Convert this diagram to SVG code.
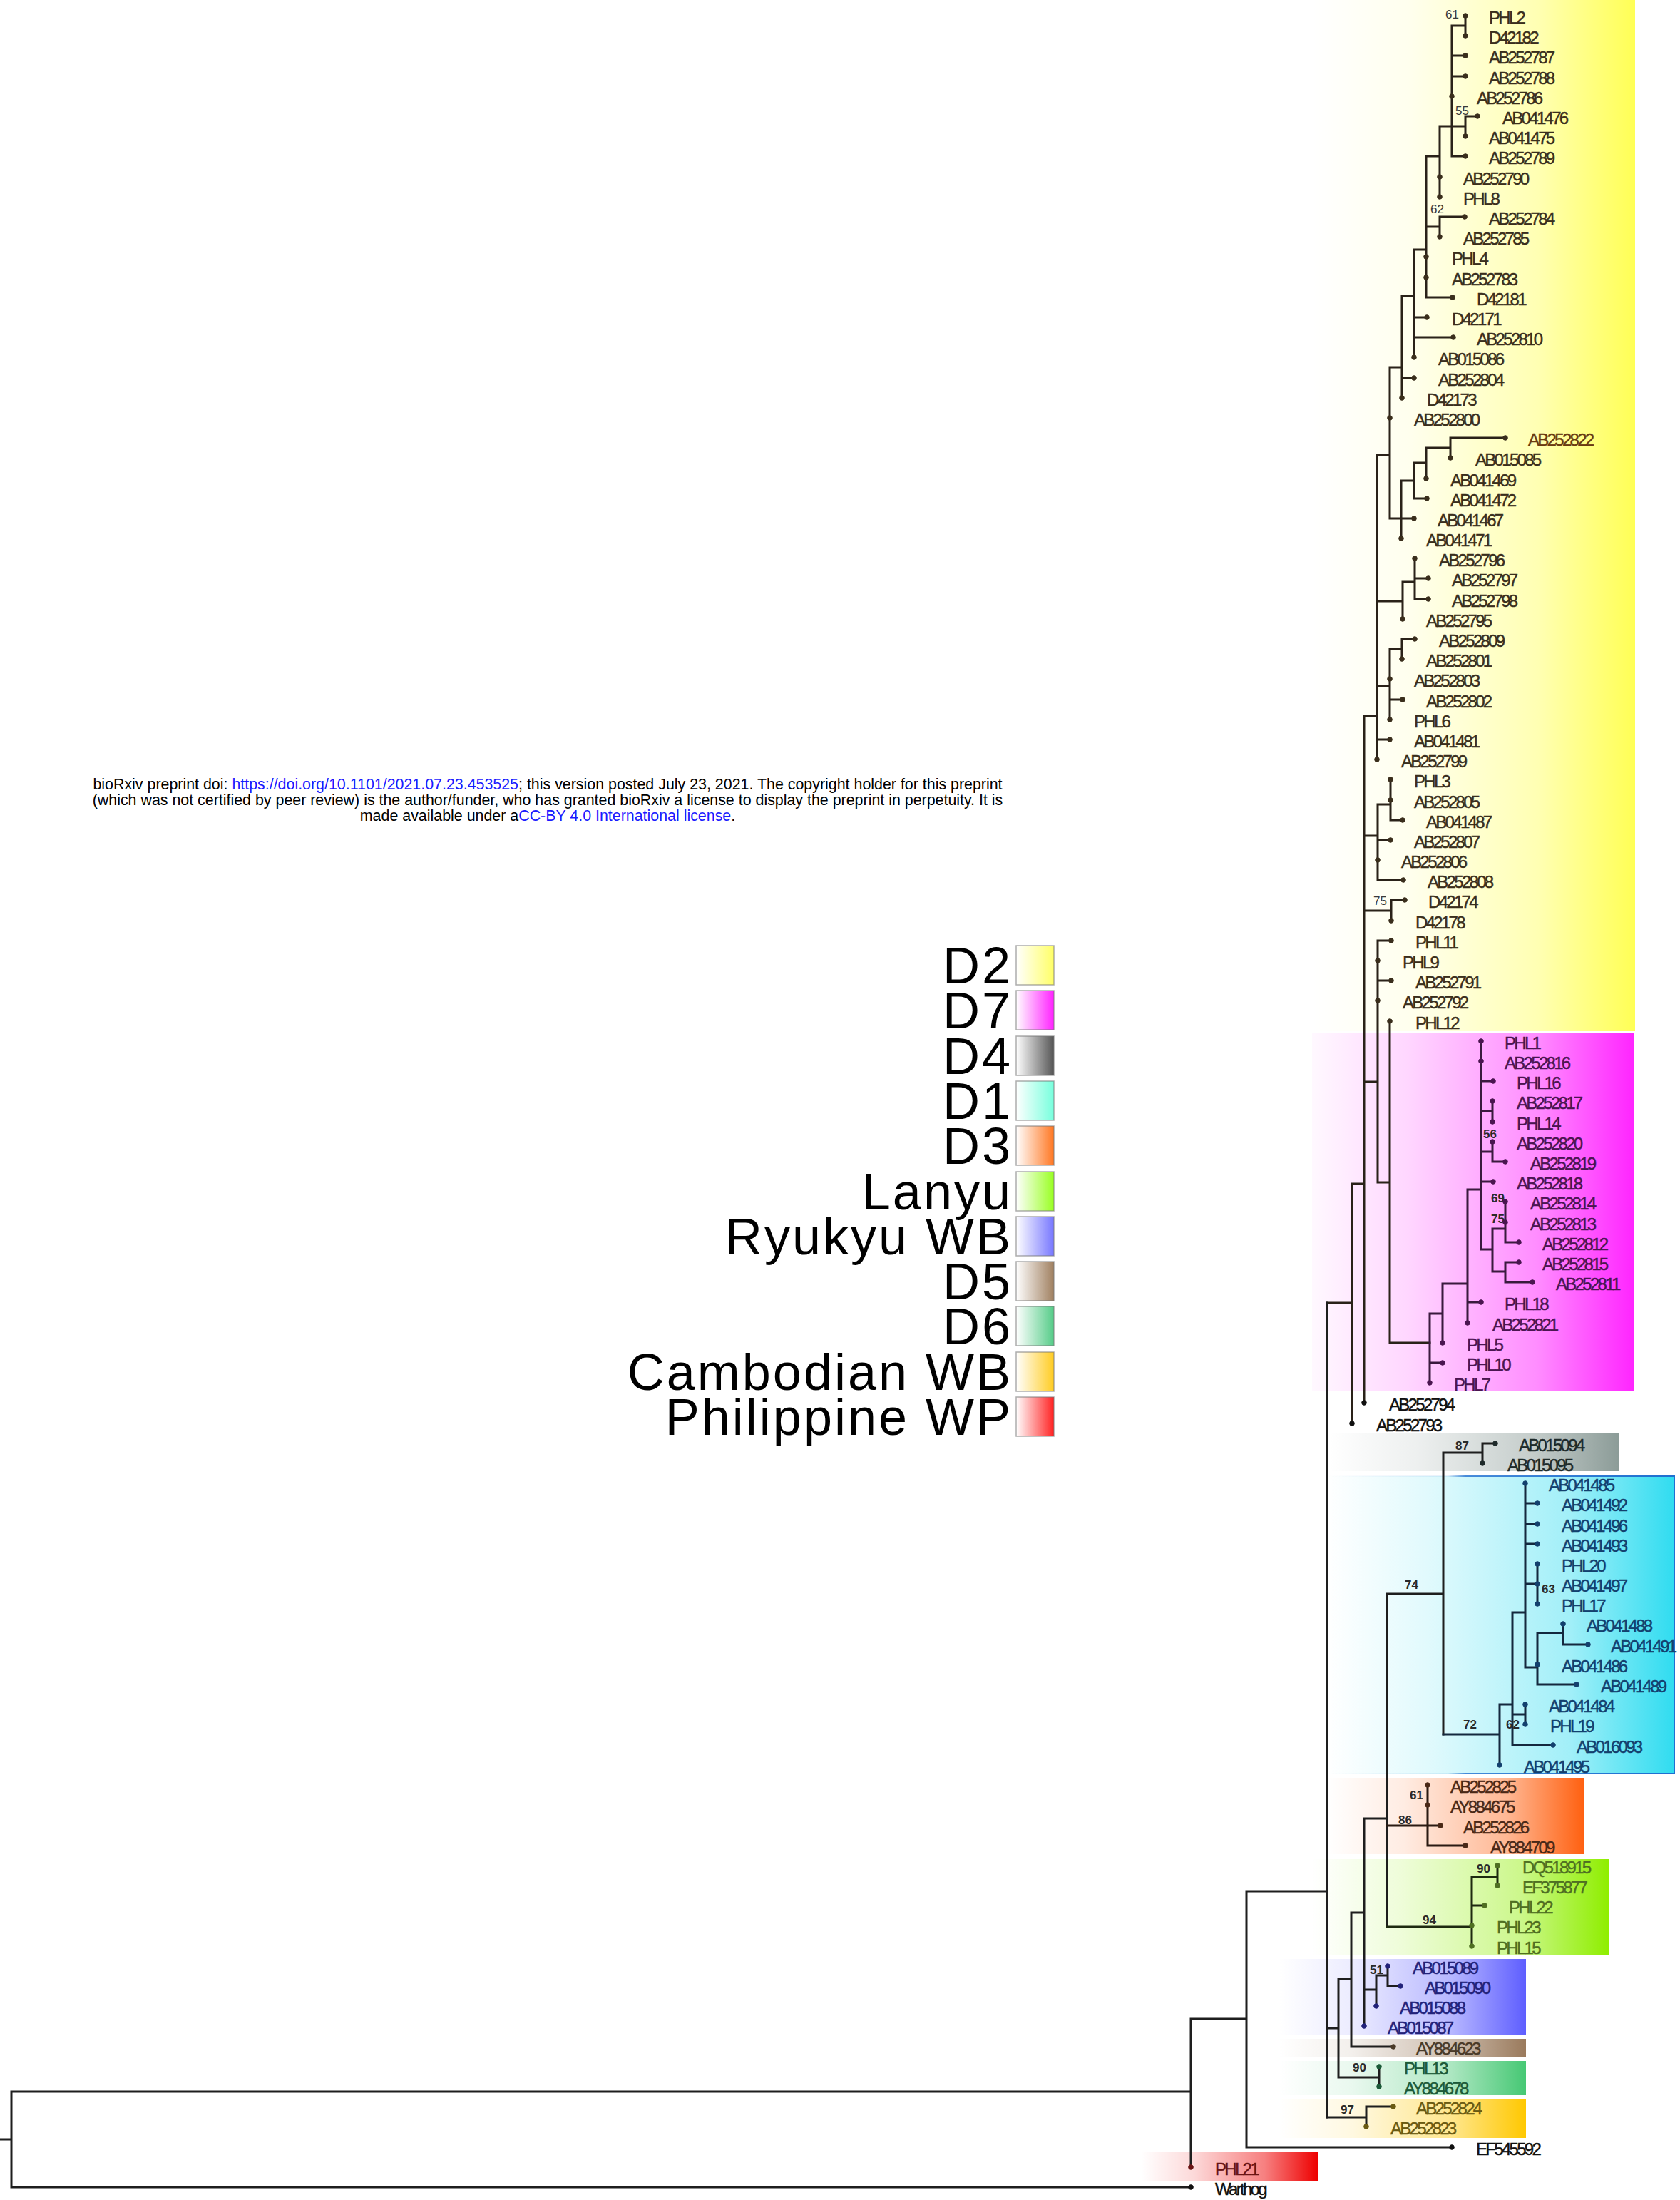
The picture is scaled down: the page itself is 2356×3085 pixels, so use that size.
<svg xmlns="http://www.w3.org/2000/svg" width="2356" height="3085" viewBox="0 0 2356 3085">
<style>
.lb{font-family:"Liberation Sans",Arial,sans-serif;font-size:24px;letter-spacing:-2.7px;dominant-baseline:central;stroke-width:.45}
.bs{font-family:"Liberation Sans",Arial,sans-serif;font-size:17px;font-weight:bold;fill:#2a2a2a;dominant-baseline:central}
.bsr{font-family:"Liberation Sans",Arial,sans-serif;font-size:17px;fill:#3a3a3a;dominant-baseline:central}
.lg{font-family:"Liberation Sans",Arial,sans-serif;font-size:72px;letter-spacing:3px;fill:#000;text-anchor:end}
.hd{font-family:"Liberation Sans",Arial,sans-serif;font-size:21.4px;fill:#000;text-anchor:middle}
.lk{fill:#1a1aff}
.ln{fill:none;stroke-width:3;stroke-linecap:square}
.c2{fill:#3a2e1c;stroke:#3a2e1c}.c7{fill:#4a1550;stroke:#4a1550}.c4{fill:#1e2a2a;stroke:#1e2a2a}.c1{fill:#13406e;stroke:#13406e}.c3{fill:#4a2816;stroke:#4a2816}.cL{fill:#4f6f22;stroke:#4f6f22}.cR{fill:#22227a;stroke:#22227a}.c5{fill:#4a3a28;stroke:#4a3a28}.c6{fill:#1c5a38;stroke:#1c5a38}.cC{fill:#6a5a12;stroke:#6a5a12}.cP{fill:#6a1414;stroke:#6a1414}.c0{fill:#111;stroke:#111}
.lgb{stroke:#777;stroke-width:1.5;stroke-opacity:.6}
</style>
<defs>
<linearGradient id="gY"><stop offset="0" stop-color="#ffff55" stop-opacity="0"/><stop offset=".3" stop-color="#ffff55" stop-opacity=".1"/><stop offset=".7" stop-color="#ffff55" stop-opacity=".45"/><stop offset="1" stop-color="#ffff55"/></linearGradient>
<linearGradient id="gM"><stop offset="0" stop-color="#ff1aff" stop-opacity=".03"/><stop offset=".3" stop-color="#ff1aff" stop-opacity=".18"/><stop offset=".7" stop-color="#ff1aff" stop-opacity=".5"/><stop offset="1" stop-color="#ff1aff" stop-opacity=".95"/></linearGradient>
<linearGradient id="gG"><stop offset="0" stop-color="#8c9c98" stop-opacity="0"/><stop offset=".3" stop-color="#8c9c98" stop-opacity=".15"/><stop offset=".7" stop-color="#8c9c98" stop-opacity=".5"/><stop offset="1" stop-color="#8c9c98"/></linearGradient>
<linearGradient id="gC"><stop offset="0" stop-color="#30dcf0" stop-opacity="0"/><stop offset=".3" stop-color="#30dcf0" stop-opacity=".15"/><stop offset=".7" stop-color="#30dcf0" stop-opacity=".45"/><stop offset="1" stop-color="#30dcf0"/></linearGradient>
<linearGradient id="gCs"><stop offset="0" stop-color="#1f6fd0" stop-opacity="0"/><stop offset=".35" stop-color="#1f6fd0" stop-opacity=".1"/><stop offset=".4" stop-color="#1f6fd0" stop-opacity=".8"/><stop offset="1" stop-color="#1f6fd0"/></linearGradient>
<linearGradient id="gO"><stop offset="0" stop-color="#ff6010" stop-opacity="0"/><stop offset=".3" stop-color="#ff6010" stop-opacity=".12"/><stop offset=".7" stop-color="#ff6010" stop-opacity=".45"/><stop offset="1" stop-color="#ff6010"/></linearGradient>
<linearGradient id="gL"><stop offset="0" stop-color="#8fee00" stop-opacity="0"/><stop offset=".3" stop-color="#8fee00" stop-opacity=".15"/><stop offset=".7" stop-color="#8fee00" stop-opacity=".45"/><stop offset="1" stop-color="#8fee00"/></linearGradient>
<linearGradient id="gR"><stop offset="0" stop-color="#5e5eff" stop-opacity="0"/><stop offset=".3" stop-color="#5e5eff" stop-opacity=".12"/><stop offset=".7" stop-color="#5e5eff" stop-opacity=".45"/><stop offset="1" stop-color="#5e5eff"/></linearGradient>
<linearGradient id="gB"><stop offset="0" stop-color="#9a7a5c" stop-opacity="0"/><stop offset=".3" stop-color="#9a7a5c" stop-opacity=".12"/><stop offset=".7" stop-color="#9a7a5c" stop-opacity=".5"/><stop offset="1" stop-color="#9a7a5c"/></linearGradient>
<linearGradient id="gE"><stop offset="0" stop-color="#46c874" stop-opacity="0"/><stop offset=".3" stop-color="#46c874" stop-opacity=".12"/><stop offset=".7" stop-color="#46c874" stop-opacity=".45"/><stop offset="1" stop-color="#46c874"/></linearGradient>
<linearGradient id="gK"><stop offset="0" stop-color="#ffc800" stop-opacity="0"/><stop offset=".3" stop-color="#ffc800" stop-opacity=".12"/><stop offset=".7" stop-color="#ffc800" stop-opacity=".45"/><stop offset="1" stop-color="#ffc800"/></linearGradient>
<linearGradient id="gP"><stop offset="0" stop-color="#ee0000" stop-opacity="0"/><stop offset=".3" stop-color="#ee0000" stop-opacity=".15"/><stop offset=".7" stop-color="#ee0000" stop-opacity=".5"/><stop offset="1" stop-color="#ee0000"/></linearGradient>
<linearGradient id="l1"><stop offset="0" stop-color="#fff"/><stop offset="1" stop-color="#ffff66"/></linearGradient>
<linearGradient id="l2"><stop offset="0" stop-color="#fff"/><stop offset="1" stop-color="#ff22ff"/></linearGradient>
<linearGradient id="l3"><stop offset="0" stop-color="#fff"/><stop offset="1" stop-color="#555"/></linearGradient>
<linearGradient id="l4"><stop offset="0" stop-color="#fff"/><stop offset="1" stop-color="#77ffdd"/></linearGradient>
<linearGradient id="l5"><stop offset="0" stop-color="#fff"/><stop offset="1" stop-color="#ff7722"/></linearGradient>
<linearGradient id="l6"><stop offset="0" stop-color="#fff"/><stop offset="1" stop-color="#99ff22"/></linearGradient>
<linearGradient id="l7"><stop offset="0" stop-color="#fff"/><stop offset="1" stop-color="#7777ff"/></linearGradient>
<linearGradient id="l8"><stop offset="0" stop-color="#fff"/><stop offset="1" stop-color="#a08060"/></linearGradient>
<linearGradient id="l9"><stop offset="0" stop-color="#fff"/><stop offset="1" stop-color="#55cc88"/></linearGradient>
<linearGradient id="l10"><stop offset="0" stop-color="#fff"/><stop offset="1" stop-color="#ffcc22"/></linearGradient>
<linearGradient id="l11"><stop offset="0" stop-color="#fff"/><stop offset="1" stop-color="#ff2222"/></linearGradient>
</defs>
<rect width="2356" height="3085" fill="#fff"/>

<g id="clade-boxes">
<rect x="1840" y="0" width="453" height="1446" fill="url(#gY)"/>
<rect x="1840" y="1448" width="451" height="502" fill="url(#gM)"/>
<rect x="1864" y="2010" width="406" height="53" fill="url(#gG)"/>
<rect x="1860" y="2070" width="488" height="417" fill="url(#gC)" stroke="url(#gCs)" stroke-width="2"/>
<rect x="1860" y="2493" width="362" height="107" fill="url(#gO)"/>
<rect x="1840" y="2607" width="416" height="135" fill="url(#gL)"/>
<rect x="1793" y="2747" width="347" height="107" fill="url(#gR)"/>
<rect x="1793" y="2859" width="347" height="25" fill="url(#gB)"/>
<rect x="1793" y="2890" width="347" height="48" fill="url(#gE)"/>
<rect x="1793" y="2943" width="347" height="55" fill="url(#gK)"/>
<rect x="1600" y="3018" width="248" height="40" fill="url(#gP)"/>
</g>

<g id="header">
<text class="hd" x="768" y="1107">bioRxiv preprint doi: <tspan class="lk">https://doi.org/10.1101/2021.07.23.453525</tspan>; this version posted July 23, 2021. The copyright holder for this preprint</text>
<text class="hd" x="768" y="1129">(which was not certified by peer review) is the author/funder, who has granted bioRxiv a license to display the preprint in perpetuity. It is</text>
<text class="hd" x="768" y="1151">made available under a<tspan class="lk">CC-BY 4.0 International license</tspan>.</text>
</g>

<g id="legend">
<g id="leg-D2"><text class="lg" x="1420" y="1379">D2</text><rect class="lgb" x="1425" y="1326" width="53" height="55" fill="url(#l1)"/></g>
<g id="leg-D7"><text class="lg" x="1420" y="1442">D7</text><rect class="lgb" x="1425" y="1389" width="53" height="55" fill="url(#l2)"/></g>
<g id="leg-D4"><text class="lg" x="1420" y="1506">D4</text><rect class="lgb" x="1425" y="1453" width="53" height="55" fill="url(#l3)"/></g>
<g id="leg-D1"><text class="lg" x="1420" y="1569">D1</text><rect class="lgb" x="1425" y="1516" width="53" height="55" fill="url(#l4)"/></g>
<g id="leg-D3"><text class="lg" x="1420" y="1632">D3</text><rect class="lgb" x="1425" y="1579" width="53" height="55" fill="url(#l5)"/></g>
<g id="leg-Lanyu"><text class="lg" x="1420" y="1696">Lanyu</text><rect class="lgb" x="1425" y="1643" width="53" height="55" fill="url(#l6)"/></g>
<g id="leg-Ryukyu"><text class="lg" x="1420" y="1759">Ryukyu WB</text><rect class="lgb" x="1425" y="1706" width="53" height="55" fill="url(#l7)"/></g>
<g id="leg-D5"><text class="lg" x="1420" y="1822">D5</text><rect class="lgb" x="1425" y="1769" width="53" height="55" fill="url(#l8)"/></g>
<g id="leg-D6"><text class="lg" x="1420" y="1885">D6</text><rect class="lgb" x="1425" y="1832" width="53" height="55" fill="url(#l9)"/></g>
<g id="leg-Cambodian"><text class="lg" x="1420" y="1949">Cambodian WB</text><rect class="lgb" x="1425" y="1896" width="53" height="55" fill="url(#l10)"/></g>
<g id="leg-Philippine"><text class="lg" x="1420" y="2012">Philippine WP</text><rect class="lgb" x="1425" y="1959" width="53" height="55" fill="url(#l11)"/></g>
</g>

<g id="connectors">
<path class="ln" stroke="#2a2219" d="M2055 22V50M2036 36H2055M2036 36V219M2036 78H2055M2036 107H2055M2036 177H2055M2055 163V191M2055 163H2072M2036 219H2055M2019 177H2036M2019 177V276M2000 219H2019M2000 219V417M2019 304V332M2019 304H2054M2000 318H2019M2000 417H2037M1983 350H2000M1983 350V501M1983 445H2001M1983 473H2038M1966 415H1983M1966 415V558M1966 530H1983M1949 515H1966M1949 515V727M1949 727H1983M1965 674V755M1965 674H1983M1983 649V699M1983 649H2000M1983 699H2001M2000 628V671M2000 628H2034M2034 614V642M2034 614H2111M1931 638H1949M1931 638V1065M1931 843H1967M1967 816V868M1967 816H1984M1984 783V840M1984 811H2003M1984 840H2003M1931 962H1949M1949 910V1009M1949 910H1966M1966 896V924M1966 896H1984M1949 981H1967M1931 1037H1949M1913 1004H1931M1913 1004V1967M1913 1172H1932M1932 1128V1234M1932 1128H1950M1950 1093V1150M1950 1150H1967M1932 1178H1950M1932 1234H1968M1913 1277H1951M1951 1262V1291M1951 1262H1970M1913 1517H1932M1932 1319V1658M1932 1319H1951M1932 1375H1951M1932 1658H1949M1949 1432V1883M1949 1883H2005M1896 1660H1913M1896 1660V1996M1861 1827H1896"/>
<path class="ln" stroke="#3a1a3e" d="M2005 1842V1939M2005 1911H2023M2005 1842H2023M2023 1800V1883M2023 1800H2058M2058 1668V1855M2058 1826H2077M2058 1668H2077M2077 1460V1752M2077 1516H2094M2077 1657H2094M2077 1558H2093M2093 1544V1573M2077 1615H2093M2093 1601V1629M2093 1629H2111M2077 1752H2093M2093 1723V1783M2093 1723H2111M2111 1685V1742M2111 1742H2130M2093 1783H2111M2111 1770V1798M2111 1770H2130M2111 1798H2149"/>
<path class="ln" stroke="#1e1e1e" d="M1861 1827V2969M2079 2024V2052M2079 2024H2097M2024 2037H2079M2024 2037V2432M1945 2235H2024M1945 2235V2702"/>
<path class="ln" stroke="#14283e" d="M2024 2432H2103M2103 2390V2475M2103 2390H2121M2121 2261V2447M2121 2261H2139M2139 2080V2338M2139 2108H2156M2139 2137H2156M2139 2165H2156M2139 2221H2156M2156 2193V2249M2139 2338H2156M2156 2290V2362M2156 2290H2192M2192 2277V2306M2192 2306H2227M2156 2362H2211M2121 2404H2139M2139 2390V2418M2121 2447H2178"/>
<path class="ln" stroke="#2a1a12" d="M1945 2560H2020M2002 2503V2588M2002 2588H2055"/>
<path class="ln" stroke="#1e2a10" d="M1945 2702H2064M2064 2632V2729M2064 2632H2100M2100 2616V2644M2064 2672H2082"/>
<path class="ln" stroke="#1e1e1e" d="M1913 2550H1945M1913 2550V2842M1913 2790H1930M1930 2770V2813M1930 2770H1946M1946 2757V2785M1946 2785H1964M1895 2682H1913M1895 2682V2870M1895 2870H1954M1877 2775H1895M1877 2775V2913M1877 2913H1934M1934 2898V2926M1861 2844H1877M1861 2969H1916M1916 2954V2982M1916 2954H1954M1748 2652H1861M1748 2652V3011M1748 3011H2036M1670 2831H1748M1670 2831V3039M16 2933H1670M16 2933V3067M16 3067H1670M0 3000H16"/>
</g>

<g id="support-values">
<text class="bsr" x="2027" y="20">61</text>
<text class="bsr" x="2041" y="155">55</text>
<text class="bsr" x="2006" y="293">62</text>
<text class="bsr" x="1926" y="1263">75</text>
<text class="bs" x="2080" y="1590">56</text>
<text class="bs" x="2091" y="1680">69</text>
<text class="bs" x="2091" y="1709">75</text>
<text class="bs" x="2041" y="2027">87</text>
<text class="bs" x="1970" y="2222">74</text>
<text class="bs" x="2162" y="2228">63</text>
<text class="bs" x="2052" y="2418">72</text>
<text class="bs" x="2112" y="2418">62</text>
<text class="bs" x="1977" y="2517">61</text>
<text class="bs" x="1961" y="2552">86</text>
<text class="bs" x="2071" y="2620">90</text>
<text class="bs" x="1995" y="2692">94</text>
<text class="bs" x="1921" y="2762">51</text>
<text class="bs" x="1897" y="2899">90</text>
<text class="bs" x="1880" y="2958">97</text>
</g>

<g id="tips">
<g id="t-PHL2" class="c2"><circle cx="2055" cy="22" r="3.3"/><text class="lb" x="2088" y="24">PHL2</text></g>
<g id="t-D42182" class="c2"><circle cx="2055" cy="50" r="3.3"/><text class="lb" x="2088" y="52">D42182</text></g>
<g id="t-AB252787" class="c2"><circle cx="2055" cy="78" r="3.3"/><text class="lb" x="2088" y="80">AB252787</text></g>
<g id="t-AB252788" class="c2"><circle cx="2055" cy="107" r="3.3"/><text class="lb" x="2088" y="109">AB252788</text></g>
<g id="t-AB252786" class="c2"><circle cx="2036" cy="135" r="3.3"/><text class="lb" x="2071" y="137">AB252786</text></g>
<g id="t-AB041476" class="c2"><circle cx="2072" cy="163" r="3.3"/><text class="lb" x="2107" y="165">AB041476</text></g>
<g id="t-AB041475" class="c2"><circle cx="2055" cy="191" r="3.3"/><text class="lb" x="2088" y="193">AB041475</text></g>
<g id="t-AB252789" class="c2"><circle cx="2055" cy="219" r="3.3"/><text class="lb" x="2088" y="221">AB252789</text></g>
<g id="t-AB252790" class="c2"><circle cx="2019" cy="248" r="3.3"/><text class="lb" x="2052" y="250">AB252790</text></g>
<g id="t-PHL8" class="c2"><circle cx="2019" cy="276" r="3.3"/><text class="lb" x="2052" y="278">PHL8</text></g>
<g id="t-AB252784" class="c2"><circle cx="2054" cy="304" r="3.3"/><text class="lb" x="2088" y="306">AB252784</text></g>
<g id="t-AB252785" class="c2"><circle cx="2019" cy="332" r="3.3"/><text class="lb" x="2052" y="334">AB252785</text></g>
<g id="t-PHL4" class="c2"><circle cx="2000" cy="360" r="3.3"/><text class="lb" x="2036" y="362">PHL4</text></g>
<g id="t-AB252783" class="c2"><circle cx="2000" cy="389" r="3.3"/><text class="lb" x="2036" y="391">AB252783</text></g>
<g id="t-D42181" class="c2"><circle cx="2037" cy="417" r="3.3"/><text class="lb" x="2071" y="419">D42181</text></g>
<g id="t-D42171" class="c2"><circle cx="2001" cy="445" r="3.3"/><text class="lb" x="2036" y="447">D42171</text></g>
<g id="t-AB252810" class="c2"><circle cx="2038" cy="473" r="3.3"/><text class="lb" x="2071" y="475">AB252810</text></g>
<g id="t-AB015086" class="c2"><circle cx="1983" cy="501" r="3.3"/><text class="lb" x="2017" y="503">AB015086</text></g>
<g id="t-AB252804" class="c2"><circle cx="1983" cy="530" r="3.3"/><text class="lb" x="2017" y="532">AB252804</text></g>
<g id="t-D42173" class="c2"><circle cx="1966" cy="558" r="3.3"/><text class="lb" x="2001" y="560">D42173</text></g>
<g id="t-AB252800" class="c2"><circle cx="1949" cy="586" r="3.3"/><text class="lb" x="1983" y="588">AB252800</text></g>
<g id="t-AB252822" class="c2"><circle cx="2111" cy="614" r="3.3"/><text class="lb" x="2143" y="616" fill="#6a3a10" stroke="#6a3a10">AB252822</text></g>
<g id="t-AB015085" class="c2"><circle cx="2034" cy="642" r="3.3"/><text class="lb" x="2069" y="644">AB015085</text></g>
<g id="t-AB041469" class="c2"><circle cx="2000" cy="671" r="3.3"/><text class="lb" x="2034" y="673">AB041469</text></g>
<g id="t-AB041472" class="c2"><circle cx="2001" cy="699" r="3.3"/><text class="lb" x="2034" y="701">AB041472</text></g>
<g id="t-AB041467" class="c2"><circle cx="1983" cy="727" r="3.3"/><text class="lb" x="2016" y="729">AB041467</text></g>
<g id="t-AB041471" class="c2"><circle cx="1965" cy="755" r="3.3"/><text class="lb" x="2000" y="757">AB041471</text></g>
<g id="t-AB252796" class="c2"><circle cx="1984" cy="783" r="3.3"/><text class="lb" x="2018" y="785">AB252796</text></g>
<g id="t-AB252797" class="c2"><circle cx="2003" cy="811" r="3.3"/><text class="lb" x="2036" y="813">AB252797</text></g>
<g id="t-AB252798" class="c2"><circle cx="2003" cy="840" r="3.3"/><text class="lb" x="2036" y="842">AB252798</text></g>
<g id="t-AB252795" class="c2"><circle cx="1967" cy="868" r="3.3"/><text class="lb" x="2000" y="870">AB252795</text></g>
<g id="t-AB252809" class="c2"><circle cx="1984" cy="896" r="3.3"/><text class="lb" x="2018" y="898">AB252809</text></g>
<g id="t-AB252801" class="c2"><circle cx="1966" cy="924" r="3.3"/><text class="lb" x="2000" y="926">AB252801</text></g>
<g id="t-AB252803" class="c2"><circle cx="1949" cy="952" r="3.3"/><text class="lb" x="1983" y="954">AB252803</text></g>
<g id="t-AB252802" class="c2"><circle cx="1967" cy="981" r="3.3"/><text class="lb" x="2000" y="983">AB252802</text></g>
<g id="t-PHL6" class="c2"><circle cx="1949" cy="1009" r="3.3"/><text class="lb" x="1983" y="1011">PHL6</text></g>
<g id="t-AB041481" class="c2"><circle cx="1949" cy="1037" r="3.3"/><text class="lb" x="1983" y="1039">AB041481</text></g>
<g id="t-AB252799" class="c2"><circle cx="1931" cy="1065" r="3.3"/><text class="lb" x="1965" y="1067">AB252799</text></g>
<g id="t-PHL3" class="c2"><circle cx="1950" cy="1093" r="3.3"/><text class="lb" x="1983" y="1095">PHL3</text></g>
<g id="t-AB252805" class="c2"><circle cx="1950" cy="1122" r="3.3"/><text class="lb" x="1983" y="1124">AB252805</text></g>
<g id="t-AB041487" class="c2"><circle cx="1967" cy="1150" r="3.3"/><text class="lb" x="2000" y="1152">AB041487</text></g>
<g id="t-AB252807" class="c2"><circle cx="1950" cy="1178" r="3.3"/><text class="lb" x="1983" y="1180">AB252807</text></g>
<g id="t-AB252806" class="c2"><circle cx="1932" cy="1206" r="3.3"/><text class="lb" x="1965" y="1208">AB252806</text></g>
<g id="t-AB252808" class="c2"><circle cx="1968" cy="1234" r="3.3"/><text class="lb" x="2002" y="1236">AB252808</text></g>
<g id="t-D42174" class="c2"><circle cx="1970" cy="1262" r="3.3"/><text class="lb" x="2003" y="1264">D42174</text></g>
<g id="t-D42178" class="c2"><circle cx="1951" cy="1291" r="3.3"/><text class="lb" x="1985" y="1293">D42178</text></g>
<g id="t-PHL11" class="c2"><circle cx="1951" cy="1319" r="3.3"/><text class="lb" x="1985" y="1321">PHL11</text></g>
<g id="t-PHL9" class="c2"><circle cx="1932" cy="1347" r="3.3"/><text class="lb" x="1967" y="1349">PHL9</text></g>
<g id="t-AB252791" class="c2"><circle cx="1951" cy="1375" r="3.3"/><text class="lb" x="1985" y="1377">AB252791</text></g>
<g id="t-AB252792" class="c2"><circle cx="1932" cy="1403" r="3.3"/><text class="lb" x="1967" y="1405">AB252792</text></g>
<g id="t-PHL12" class="c2"><circle cx="1949" cy="1432" r="3.3"/><text class="lb" x="1985" y="1434">PHL12</text></g>
<g id="t-PHL1" class="c7"><circle cx="2077" cy="1460" r="3.3"/><text class="lb" x="2110" y="1462">PHL1</text></g>
<g id="t-AB252816" class="c7"><circle cx="2077" cy="1488" r="3.3"/><text class="lb" x="2110" y="1490">AB252816</text></g>
<g id="t-PHL16" class="c7"><circle cx="2094" cy="1516" r="3.3"/><text class="lb" x="2127" y="1518">PHL16</text></g>
<g id="t-AB252817" class="c7"><circle cx="2093" cy="1544" r="3.3"/><text class="lb" x="2127" y="1546">AB252817</text></g>
<g id="t-PHL14" class="c7"><circle cx="2093" cy="1573" r="3.3"/><text class="lb" x="2127" y="1575">PHL14</text></g>
<g id="t-AB252820" class="c7"><circle cx="2093" cy="1601" r="3.3"/><text class="lb" x="2127" y="1603">AB252820</text></g>
<g id="t-AB252819" class="c7"><circle cx="2111" cy="1629" r="3.3"/><text class="lb" x="2146" y="1631">AB252819</text></g>
<g id="t-AB252818" class="c7"><circle cx="2094" cy="1657" r="3.3"/><text class="lb" x="2127" y="1659">AB252818</text></g>
<g id="t-AB252814" class="c7"><circle cx="2111" cy="1685" r="3.3"/><text class="lb" x="2146" y="1687">AB252814</text></g>
<g id="t-AB252813" class="c7"><circle cx="2111" cy="1714" r="3.3"/><text class="lb" x="2146" y="1716">AB252813</text></g>
<g id="t-AB252812" class="c7"><circle cx="2130" cy="1742" r="3.3"/><text class="lb" x="2163" y="1744">AB252812</text></g>
<g id="t-AB252815" class="c7"><circle cx="2130" cy="1770" r="3.3"/><text class="lb" x="2163" y="1772">AB252815</text></g>
<g id="t-AB252811" class="c7"><circle cx="2149" cy="1798" r="3.3"/><text class="lb" x="2182" y="1800">AB252811</text></g>
<g id="t-PHL18" class="c7"><circle cx="2077" cy="1826" r="3.3"/><text class="lb" x="2110" y="1828">PHL18</text></g>
<g id="t-AB252821" class="c7"><circle cx="2058" cy="1855" r="3.3"/><text class="lb" x="2093" y="1857">AB252821</text></g>
<g id="t-PHL5" class="c7"><circle cx="2023" cy="1883" r="3.3"/><text class="lb" x="2057" y="1885">PHL5</text></g>
<g id="t-PHL10" class="c7"><circle cx="2023" cy="1911" r="3.3"/><text class="lb" x="2057" y="1913">PHL10</text></g>
<g id="t-PHL7" class="c7"><circle cx="2005" cy="1939" r="3.3"/><text class="lb" x="2039" y="1941">PHL7</text></g>
<g id="t-AB252794" class="c0"><circle cx="1913" cy="1967" r="3.3"/><text class="lb" x="1948" y="1969">AB252794</text></g>
<g id="t-AB252793" class="c0"><circle cx="1896" cy="1996" r="3.3"/><text class="lb" x="1930" y="1998">AB252793</text></g>
<g id="t-AB015094" class="c4"><circle cx="2097" cy="2024" r="3.3"/><text class="lb" x="2130" y="2026">AB015094</text></g>
<g id="t-AB015095" class="c4"><circle cx="2079" cy="2052" r="3.3"/><text class="lb" x="2114" y="2054">AB015095</text></g>
<g id="t-AB041485" class="c1"><circle cx="2139" cy="2080" r="3.3"/><text class="lb" x="2172" y="2082">AB041485</text></g>
<g id="t-AB041492" class="c1"><circle cx="2156" cy="2108" r="3.3"/><text class="lb" x="2190" y="2110">AB041492</text></g>
<g id="t-AB041496" class="c1"><circle cx="2156" cy="2137" r="3.3"/><text class="lb" x="2190" y="2139">AB041496</text></g>
<g id="t-AB041493" class="c1"><circle cx="2156" cy="2165" r="3.3"/><text class="lb" x="2190" y="2167">AB041493</text></g>
<g id="t-PHL20" class="c1"><circle cx="2156" cy="2193" r="3.3"/><text class="lb" x="2190" y="2195">PHL20</text></g>
<g id="t-AB041497" class="c1"><circle cx="2156" cy="2221" r="3.3"/><text class="lb" x="2190" y="2223">AB041497</text></g>
<g id="t-PHL17" class="c1"><circle cx="2156" cy="2249" r="3.3"/><text class="lb" x="2190" y="2251">PHL17</text></g>
<g id="t-AB041488" class="c1"><circle cx="2192" cy="2277" r="3.3"/><text class="lb" x="2225" y="2279">AB041488</text></g>
<g id="t-AB041491" class="c1"><circle cx="2227" cy="2306" r="3.3"/><text class="lb" x="2259" y="2308">AB041491</text></g>
<g id="t-AB041486" class="c1"><circle cx="2156" cy="2334" r="3.3"/><text class="lb" x="2190" y="2336">AB041486</text></g>
<g id="t-AB041489" class="c1"><circle cx="2211" cy="2362" r="3.3"/><text class="lb" x="2245" y="2364">AB041489</text></g>
<g id="t-AB041484" class="c1"><circle cx="2139" cy="2390" r="3.3"/><text class="lb" x="2172" y="2392">AB041484</text></g>
<g id="t-PHL19" class="c1"><circle cx="2139" cy="2418" r="3.3"/><text class="lb" x="2174" y="2420">PHL19</text></g>
<g id="t-AB016093" class="c1"><circle cx="2178" cy="2447" r="3.3"/><text class="lb" x="2211" y="2449">AB016093</text></g>
<g id="t-AB041495" class="c1"><circle cx="2103" cy="2475" r="3.3"/><text class="lb" x="2137" y="2477">AB041495</text></g>
<g id="t-AB252825" class="c3"><circle cx="2002" cy="2503" r="3.3"/><text class="lb" x="2034" y="2505">AB252825</text></g>
<g id="t-AY884675" class="c3"><circle cx="2002" cy="2531" r="3.3"/><text class="lb" x="2034" y="2533">AY884675</text></g>
<g id="t-AB252826" class="c3"><circle cx="2020" cy="2560" r="3.3"/><text class="lb" x="2052" y="2562">AB252826</text></g>
<g id="t-AY884709" class="c3"><circle cx="2055" cy="2588" r="3.3"/><text class="lb" x="2090" y="2590">AY884709</text></g>
<g id="t-DQ518915" class="cL"><circle cx="2100" cy="2616" r="3.3"/><text class="lb" x="2135" y="2618">DQ518915</text></g>
<g id="t-EF375877" class="cL"><circle cx="2100" cy="2644" r="3.3"/><text class="lb" x="2135" y="2646">EF375877</text></g>
<g id="t-PHL22" class="cL"><circle cx="2082" cy="2672" r="3.3"/><text class="lb" x="2116" y="2674">PHL22</text></g>
<g id="t-PHL23" class="cL"><circle cx="2064" cy="2700" r="3.3"/><text class="lb" x="2099" y="2702">PHL23</text></g>
<g id="t-PHL15" class="cL"><circle cx="2064" cy="2729" r="3.3"/><text class="lb" x="2099" y="2731">PHL15</text></g>
<g id="t-AB015089" class="cR"><circle cx="1946" cy="2757" r="3.3"/><text class="lb" x="1981" y="2759">AB015089</text></g>
<g id="t-AB015090" class="cR"><circle cx="1964" cy="2785" r="3.3"/><text class="lb" x="1998" y="2787">AB015090</text></g>
<g id="t-AB015088" class="cR"><circle cx="1930" cy="2813" r="3.3"/><text class="lb" x="1963" y="2815">AB015088</text></g>
<g id="t-AB015087" class="cR"><circle cx="1913" cy="2841" r="3.3"/><text class="lb" x="1946" y="2843">AB015087</text></g>
<g id="t-AY884623" class="c5"><circle cx="1954" cy="2870" r="3.3"/><text class="lb" x="1986" y="2872">AY884623</text></g>
<g id="t-PHL13" class="c6"><circle cx="1934" cy="2898" r="3.3"/><text class="lb" x="1969" y="2900">PHL13</text></g>
<g id="t-AY884678" class="c6"><circle cx="1934" cy="2926" r="3.3"/><text class="lb" x="1969" y="2928">AY884678</text></g>
<g id="t-AB252824" class="cC"><circle cx="1954" cy="2954" r="3.3"/><text class="lb" x="1986" y="2956">AB252824</text></g>
<g id="t-AB252823" class="cC"><circle cx="1916" cy="2982" r="3.3"/><text class="lb" x="1950" y="2984">AB252823</text></g>
<g id="t-EF545592" class="c0"><circle cx="2036" cy="3011" r="3.3"/><text class="lb" x="2070" y="3013">EF545592</text></g>
<g id="t-PHL21" class="cP"><circle cx="1670" cy="3039" r="3.3"/><text class="lb" x="1704" y="3041">PHL21</text></g>
<g id="t-Warthog" class="c0"><circle cx="1670" cy="3067" r="3.3"/><text class="lb" x="1704" y="3069">Warthog</text></g>
</g>
</svg>
